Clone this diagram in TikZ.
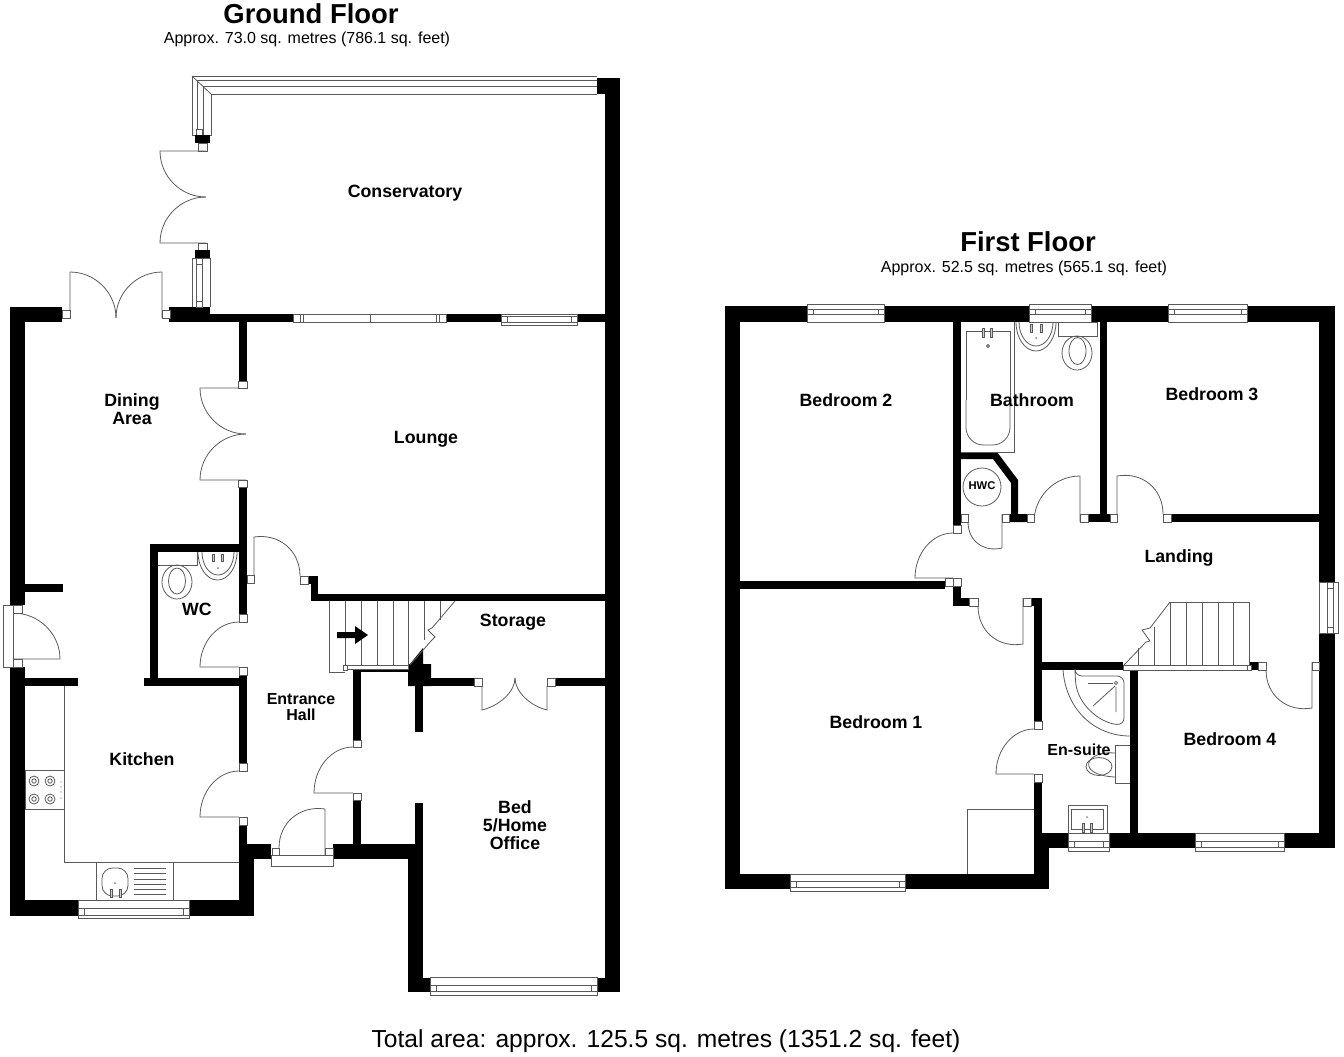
\documentclass[tikz,border=0pt]{standalone}
\usepackage{fontspec}
\setmainfont{Liberation Sans}
\usetikzlibrary{calc}
\tikzset{
	wall/.style={fill=black, draw=none},
	fix/.style={draw=black!65, line width=0.45pt},
	jamb/.style={fix, fill=white},
	room/.style={inner sep=0pt, align=center, font=\fontsize{10.1}{10.2}\selectfont\bfseries},
	smallroom/.style={room, font=\fontsize{9.1}{9.1}\selectfont\bfseries},
	floortitle/.style={inner sep=0pt, font=\fontsize{15.6}{16}\selectfont\bfseries},
	floorarea/.style={inner sep=0pt, font=\fontsize{9.1}{10}\selectfont},
}
% door: hinge, tip of leaf, end of swing
\newcommand{\door}[3]{\draw[fix] (#1) -- (#2) .. controls ($(#2)+.55*(#3)-.55*(#1)$) and ($(#3)+.55*(#2)-.55*(#1)$) .. (#3);}
% window in a horizontal wall: x1, x2, outer y1, outer y2, inner y1, inner y2
\newcommand{\winh}[6]{
	\draw[jamb] (#1,#3) rectangle (#2,#4);
	\draw[fix] (#1+6,#5) rectangle (#2-6,#6);
	\draw[fix] (#1,#5) -- (#1+6,#5) (#1,#6) -- (#1+6,#6) (#2-6,#5) -- (#2,#5) (#2-6,#6) -- (#2,#6);
}
\begin{document}
\begin{tikzpicture}[x=0.02cm, y=-0.02cm]
	\useasboundingbox (0,0) rectangle (1344,1056);
	
%%%%     GROUND FLOOR     %%%%

	% outer walls
	\fill[wall] (10,307) rectangle (62,322);
	\fill[wall] (10,307) rectangle (25,605);
	\fill[wall] (25,584) rectangle (63,592);
	\fill[wall] (10,667) rectangle (25,916);
	\fill[wall] (25,678) rectangle (78,686);
	\fill[wall] (10,900) rectangle (78,916);
	\fill[wall] (189,900) rectangle (254,916);
	\fill[wall] (239,844) rectangle (254,916);
	\fill[wall] (239,844) rectangle (271,859);
	\fill[wall] (333,844) rectangle (415,859);
	\fill[wall] (415,803) rectangle (423,859);
	\fill[wall] (408,844) rectangle (423,992);
	\fill[wall] (408,978) rectangle (430,992);
	\fill[wall] (597,978) rectangle (620,992);
	\fill[wall] (605,78) rectangle (620,992);
	\fill[wall] (597,78) rectangle (605,94);
	\fill[wall] (169,307) rectangle (210,322);
	\fill[wall] (210,314) rectangle (293,322);
	\fill[wall] (446,314) rectangle (501,322);
	\fill[wall] (577,314) rectangle (605,322);
	
	% inner walls
	\fill[wall] (239,322) rectangle (247,381);
	\fill[wall] (239,487) rectangle (247,614);
	\fill[wall] (150,544) rectangle (239,552);
	\fill[wall] (150,544) rectangle (158,678);
	\fill[wall] (144,678) rectangle (239,686);
	\fill[wall] (239,675) rectangle (247,763);
	\fill[wall] (239,825) rectangle (247,844);
	\fill[wall] (308,576) rectangle (318,584);
	\fill[wall] (311,584) rectangle (318,601);
	\fill[wall] (311,594) rectangle (605,601);
	\fill[wall] (353,669) rectangle (408,672);
	\fill[wall] (353,669) rectangle (361,740);
	\fill[wall] (353,800) rectangle (361,844);
	\fill[wall] (408,664) -- (410,664) -- (423,648) -- (423,664) -- (431,664) -- (431,686) -- (408,686) -- cycle;
	\fill[wall] (415,686) rectangle (423,732);
	\fill[wall] (431,678) rectangle (474,686);
	\fill[wall] (555,678) rectangle (605,686);
	
	% conservatory frame
	\draw[fix] (597,76) -- (192,76) -- (192,135) -- (211,135) -- (211,94) -- (597,94);
	\draw[fix] (597,80) -- (197,80) -- (197,135) (597,86) -- (203,86) -- (203,135);
	\draw[fix] (192,76) -- (211,94);
	\draw[jamb] (196,129) rectangle (202,135);
	\fill[wall] (195,135) rectangle (210,143);
	\draw[jamb] (198,143) rectangle (207,151);
	\door{206,151}{160,151}{206,197}
	\door{206,243}{160,243}{206,197}
	\draw[jamb] (198,243) rectangle (207,250);
	\fill[wall] (195,250) rectangle (210,258);
	\draw[fix] (192,307) -- (192,258) -- (210,258) -- (210,307);
	\draw[fix] (196,263) rectangle (202,301);
	\draw[jamb] (196,258) rectangle (202,264) (196,301) rectangle (202,307);
	
	% doors
	\door{70,318}{70,272}{116,318}
	\door{162,318}{162,272}{116,318}
	\draw[jamb] (62,310) rectangle (70,318);
	\draw[jamb] (162,310) rectangle (170,318);
	\door{246,388}{200,388}{246,434}
	\door{246,480}{200,480}{246,434}
	\draw[jamb] (238,381) rectangle (247,388);
	\draw[jamb] (238,480) rectangle (247,487);
	\door{254,583}{254,537}{300,576}
	\draw[jamb] (247,575) rectangle (254,583);
	\draw[jamb] (300,576) rectangle (308,584);
	\door{239,667}{200,667}{239,622}
	\draw[jamb] (239,614) rectangle (247,622);
	\draw[jamb] (239,667) rectangle (247,675);
	\door{239,817}{200,817}{239,771}
	\draw[jamb] (239,763) rectangle (247,771);
	\draw[jamb] (239,817) rectangle (247,825);
	\door{353,793}{314,793}{353,747}
	\draw[jamb] (353,740) rectangle (361,747);
	\draw[jamb] (353,793) rectangle (361,800);
	\door{482,686}{482,710}{515,678}
	\door{547,686}{547,710}{515,678}
	\draw[jamb] (474,678) rectangle (482,686);
	\draw[jamb] (547,678) rectangle (555,686);
	\draw[jamb] (271,855) rectangle (333,866);
	\door{325,855}{325,809}{279,848}
	\draw[jamb] (272,848) rectangle (279,855);
	\draw[jamb] (325,848) rectangle (333,855);
	% side door of the dining area
	\draw[jamb] (3,605) rectangle (13,667);
	\draw[fix] (13,613) -- (13,659);
	\door{13,659}{60,659}{13,613}
	\draw[jamb] (13,605) rectangle (22,613);
	\draw[jamb] (13,659) rectangle (22,667);
	
	% windows
	\winh{78}{189}{900}{918}{908}{915}
	\winh{430}{597}{977}{995}{985}{991}
	\winh{501}{577}{314}{325}{316}{322}
	\draw[jamb] (293,314) rectangle (370,322);
	\draw[jamb] (370,314) rectangle (446,322);
	\draw[fix] (300,314) -- (300,322) (303,314) -- (303,322) (436,314) -- (436,322) (439,314) -- (439,322);
	
	% stairs
	\draw[fix] (345,665) -- (345,601) (329,601) -- (329,672) -- (345,672);
	\foreach \tx in {361,377,393,408}
		\draw[fix] (\tx,601) -- (\tx,665);
	\draw[fix] (424,601) -- (424,640) (440,601) -- (440,620);
	\draw[fix] (455,601) -- (432,628) -- (428,630) -- (435,637) -- (431,641) -- (410,665);
	\draw[jamb] (345,665) rectangle (408,669);
	\draw[jamb] (343,665) rectangle (347,670);
	\fill[wall] (337,632) -- (355,632) -- (355,626) -- (368,635) -- (355,644) -- (355,638) -- (337,638) -- cycle;
	
	% wc
	\draw[fix] (158,565) -- (197,565) -- (197,552);
	\draw[fix] (177,582) ellipse (15 and 17);
	\draw[fix] (177,581) ellipse (8.5 and 13);
	\draw[fix] (198,552) arc[start angle=180, end angle=0, x radius=19.5, y radius=28];
	\draw[fix] (202,552) arc[start angle=180, end angle=0, x radius=16, y radius=23];
	\draw[fix, fill=black!20] (212,554) rectangle (214,561) (221,554) rectangle (223,561);
	\fill[black!50] (218,568) circle (1);
	
	% kitchen
	\draw[fix] (64,686) -- (64,862) -- (239,862);
	\draw[fix] (25,770) rectangle (64,809);
	\foreach \hx in {34,50}
		\foreach \hy in {781,799}{
			\draw[fix] (\hx,\hy) circle (5);
			\draw[fix] (\hx,\hy) circle (2.2);
		}
	\foreach \hy in {782,787,792,798}
		\fill[black!60] (61,\hy) circle (0.7);
	\draw[fix] (96,862) -- (96,900) (173,862) -- (173,900);
	\draw[fix, rounded corners=6pt] (102,868) rectangle (128,896);
	\foreach \sy in {868,873,879,884,889,894}
		\draw[fix] (134,\sy) -- (166,\sy);
	\draw[fix, fill=black!20] (110,889) rectangle (112,897) (119,889) rectangle (121,897);
	\fill[black!50] (115,883) circle (1);
	
	% labels
	\node[floortitle] (groundtitle) at (311,14) {Ground Floor};
	\node[floorarea] (groundarea) at (307,39) {Approx. 73.0 sq. metres (786.1 sq. feet)};
	\node[room] (conservatory) at (405,193) {Conservatory};
	\node[room] (lounge) at (426,439) {Lounge};
	\node[room] (dining) at (132,409) {Dining\\Area};
	\node[room] (wc) at (197,609) {WC};
	\node[room] (storage) at (513,622) {Storage};
	\node[smallroom] (hall) at (301,707) {Entrance\\Hall};
	\node[room] (kitchen) at (142,759) {Kitchen};
	\node[room] (bedfive) at (515,825) {Bed\\5/Home\\Office};
	
%%%%     FIRST FLOOR     %%%%

	% outer walls
	\fill[wall] (725,306) rectangle (807,322);
	\fill[wall] (884,306) rectangle (1029,322);
	\fill[wall] (1091,306) rectangle (1168,322);
	\fill[wall] (1247,306) rectangle (1335,322);
	\fill[wall] (725,306) rectangle (740,889);
	\fill[wall] (725,874) rectangle (790,889);
	\fill[wall] (905,874) rectangle (1049,889);
	\fill[wall] (1319,306) rectangle (1335,582);
	\fill[wall] (1319,633) rectangle (1335,848);
	\fill[wall] (1034,833) rectangle (1049,889);
	\fill[wall] (1034,833) rectangle (1068,848);
	\fill[wall] (1109,833) rectangle (1195,848);
	\fill[wall] (1284,833) rectangle (1335,848);
	
	% inner walls
	\fill[wall] (740,581) rectangle (945,589);
	\fill[wall] (953,322) rectangle (961,525);
	\fill[wall] (953,586) rectangle (961,606);
	\fill[wall] (953,598) rectangle (969,606);
	\fill[wall] (961,452) -- (997,452) -- (1018,480) -- (1018,514) -- (1027,514) -- (1027,522) -- (1009,522) -- (1009,514) -- (1011,514) -- (1011,483) -- (993,459) -- (961,459) -- cycle;
	\fill[wall] (1088,514) rectangle (1110,522);
	\fill[wall] (1100,322) rectangle (1107,514);
	\fill[wall] (1171,514) rectangle (1319,522);
	\fill[wall] (1031,598) rectangle (1042,606);
	\fill[wall] (1034,598) rectangle (1042,721);
	\fill[wall] (1034,782) rectangle (1042,848);
	\fill[wall] (1042,662) rectangle (1123,670);
	\fill[wall] (1130,670) rectangle (1138,833);
	\fill[wall] (1249,662) rectangle (1258,670);
	
	% doors
	\door{953,578}{915,578}{953,533}
	\draw[jamb] (953,525) rectangle (961,533);
	\draw[jamb] (945,578) rectangle (961,586);
	\draw[jamb] (953,578) rectangle (961,586);
	\door{1023,598}{1023,644}{978,606}
	\draw[jamb] (969,598) rectangle (978,606);
	\draw[jamb] (1023,598) rectangle (1031,606);
	\door{1002,514}{1002,548}{968,522}
	\draw[jamb] (961,514) rectangle (968,522);
	\draw[jamb] (1002,514) rectangle (1009,522);
	\door{1080,522}{1080,476}{1034,522}
	\draw[jamb] (1027,514) rectangle (1034,522);
	\draw[jamb] (1080,514) rectangle (1088,522);
	\door{1117,522}{1117,476}{1163,514}
	\draw[jamb] (1110,514) rectangle (1117,522);
	\draw[jamb] (1163,514) rectangle (1171,522);
	\door{1034,774}{996,774}{1034,729}
	\draw[jamb] (1034,721) rectangle (1042,729);
	\draw[jamb] (1034,774) rectangle (1042,782);
	\door{1312,662}{1312,708}{1266,670}
	\draw[jamb] (1258,662) rectangle (1266,670);
	\draw[jamb] (1312,662) rectangle (1319,670);
	
	% windows
	\winh{807}{884}{304}{322}{309}{314}
	\winh{1168}{1247}{304}{322}{309}{314}
	\winh{1029}{1091}{304}{322}{309}{314}
	\winh{790}{905}{874}{891}{881}{887}
	\winh{1195}{1284}{833}{851}{841}{847}
	\winh{1068}{1109}{833}{851}{841}{847}
	\draw[jamb] (1319,582) rectangle (1338,633);
	\draw[fix] (1327,588) rectangle (1333,627);
	\draw[fix] (1327,582) -- (1327,588) (1333,582) -- (1333,588) (1327,627) -- (1327,633) (1333,627) -- (1333,633);
	
	% stairs
	\foreach \tx in {1170,1186,1202,1218,1233,1249}
		\draw[fix] (\tx,602) -- (\tx,665);
	\draw[fix] (1170,602) -- (1249,602);
	\draw[fix] (1154,627) -- (1154,665) (1138,648) -- (1138,665);
	\draw[fix] (1170,602) -- (1150,628) -- (1142,630) -- (1150,641) -- (1146,642) -- (1124,665);
	\draw[jamb] (1123,665) rectangle (1249,670);
	\draw[jamb] (1247,665) rectangle (1251,670);
	
	% bathroom
	\draw[fix] (961,452) -- (1014,452) -- (1014,322);
	\draw[fix, rounded corners=10pt] (966,400) -- (966,445) -- (1010,445) -- (1010,400);
	\draw[fix] (966,400) -- (966,331) -- (1010,331) -- (1010,400);
	\draw[fix, fill=black!20] (982,328) rectangle (984,337) (990,328) rectangle (992,337);
	\draw[fix] (988,346) circle (1.5);
	\draw[fix] (1016,322) arc[start angle=180, end angle=0, x radius=20, y radius=29];
	\draw[fix] (1019,322) arc[start angle=180, end angle=0, x radius=17, y radius=24];
	\draw[fix, fill=black!20] (1030,324) rectangle (1032,332) (1040,324) rectangle (1042,332);
	\fill[black!50] (1036,338) circle (1);
	\draw[fix] (1058,322) rectangle (1097,336);
	\draw[fix] (1077,353) ellipse (15 and 17);
	\draw[fix] (1077.5,351) ellipse (8.5 and 13.5);
	\draw[fix] (982,487) circle (19);
	
	% en-suite
	\draw[fix] (1063,670) .. controls (1066,710) and (1095,736) .. (1130,736);
	\draw[fix, rounded corners=4pt] (1075,676) -- (1124,676) -- (1124,725) .. controls (1100,723) and (1078,705) .. cycle;
	\draw[fix] (1088,683) -- (1113,683);
	\draw[fix] (1116,683) circle (1.6);
	\draw[fix] (1115,686) -- (1093,706) (1116,687) -- (1116,712);
	\draw[fix] (1130,745) -- (1115,745) -- (1115,783) -- (1130,783);
	\draw[fix] (1115,753) .. controls (1085,750) and (1075,775) .. (1115,777);
	\draw[fix] (1099,766.5) ellipse (13 and 9);
	\draw[fix] (1068,833) -- (1068,805) -- (1107,805) -- (1107,833);
	\draw[fix] (1071,809) rectangle (1103,829);
	\draw[fix, fill=black!20] (1082,823) rectangle (1084,832) (1090,823) rectangle (1092,832);
	\fill[black!50] (1087,817) circle (1);
	
	% cupboard
	\draw[fix] (967,874) -- (967,809) -- (1034,809);
	
	% labels
	\node[floortitle] (firsttitle) at (1028,242) {First Floor};
	\node[floorarea] (firstarea) at (1024,268) {Approx. 52.5 sq. metres (565.1 sq. feet)};
	\node[room] (bedtwo) at (846,400) {Bedroom 2};
	\node[room] (bathroom) at (1032,400) {Bathroom};
	\node[room] (bedthree) at (1212,394) {Bedroom 3};
	\node[room, font=\fontsize{6.4}{7}\selectfont\bfseries] (hwc) at (982,486) {HWC};
	\node[room] (landing) at (1179,558) {Landing};
	\node[room] (bedone) at (876,722) {Bedroom 1};
	\node[smallroom] (ensuite) at (1079,750) {En-suite};
	\node[room] (bedfour) at (1230,739) {Bedroom 4};
	
	\node[inner sep=0pt, font=\fontsize{14}{14}\selectfont] (total) at (666,1041) {Total area: approx. 125.5 sq. metres (1351.2 sq. feet)};
\end{tikzpicture}
\end{document}
